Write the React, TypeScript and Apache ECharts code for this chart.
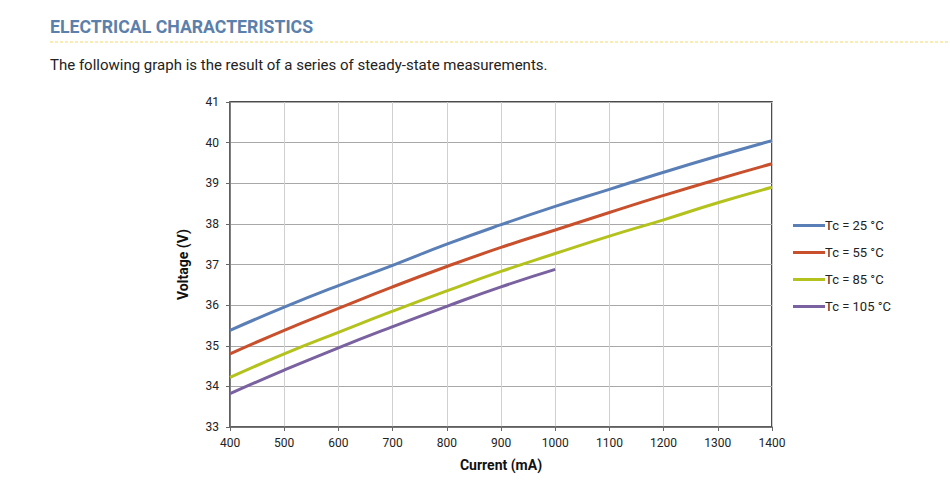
import React, { useEffect, useRef } from "react";
import * as echarts from "echarts";

const currents = [400, 500, 600, 700, 800, 900, 1000, 1100, 1200, 1300, 1400];
const tc25 = [35.38, 35.95, 36.48, 36.98, 37.5, 37.98, 38.43, 38.85, 39.27, 39.67, 40.05];
const tc55 = [34.8, 35.38, 35.92, 36.45, 36.95, 37.42, 37.85, 38.28, 38.7, 39.1, 39.48];
const tc85 = [34.22, 34.8, 35.33, 35.85, 36.35, 36.83, 37.27, 37.7, 38.1, 38.52, 38.9];
const tc105 = [33.82, 34.4, 34.95, 35.47, 35.97, 36.45, 36.88];

const seriesNames = ["Tc = 25 °C", "Tc = 55 °C", "Tc = 85 °C", "Tc = 105 °C"];
const seriesColors = ["#5a7fb6", "#c8502c", "#b4c21e", "#7a62a0"];
const seriesData = [tc25, tc55, tc85, tc105];

export default function App() {
  const ref = useRef<HTMLDivElement>(null);
  useEffect(() => {
    document.body.style.margin = "0";
    const chart = echarts.init(ref.current!, null, { renderer: "svg" });
    const font = "Roboto";
    chart.setOption({
      animation: false,
      backgroundColor: "#ffffff",
      textStyle: { fontFamily: font },
      graphic: [
        {
          type: "text",
          left: 50,
          top: 18,
          style: { text: "ELECTRICAL CHARACTERISTICS", fill: "#5b80ab", font: `bold 17.7px ${font}` },
        },
        {
          type: "line",
          shape: { x1: 50, y1: 42, x2: 948, y2: 42 },
          style: { stroke: "#f2d96a", lineWidth: 1, lineDash: [3, 2] },
        },
        {
          type: "text",
          left: 50,
          top: 57,
          style: { text: "The following graph is the result of a series of steady-state measurements.", fill: "#222", font: `15px ${font}` },
        },
      ],
      legend: {
        orient: "vertical",
        left: 788,
        top: 214,
        itemGap: 14,
        itemWidth: 32,
        itemHeight: 3,
        icon: "rect",
        textStyle: { fontFamily: font, fontSize: 13, color: "#222", padding: [0, 0, 0, -5] },
        data: seriesNames,
      },
      grid: {
        left: 230,
        top: 102,
        width: 542,
        height: 325,
        show: true,
        borderColor: "#111",
        borderWidth: 1.5,
      },
      xAxis: {
        type: "value",
        min: 400,
        max: 1400,
        interval: 100,
        name: "Current (mA)",
        nameLocation: "middle",
        nameGap: 31,
        nameTextStyle: { fontFamily: font, fontWeight: "bold", fontSize: 14, color: "#111" },
        axisLine: { show: true, lineStyle: { color: "#666", width: 1.5 } },
        axisTick: { show: true, length: 4, lineStyle: { color: "#666" } },
        axisLabel: { fontFamily: font, fontSize: 12, color: "#222", margin: 10, formatter: (v: number) => String(v) },
        splitLine: { show: true, lineStyle: { color: "#d0d0d0", width: 1 } },
      },
      yAxis: {
        type: "value",
        min: 33,
        max: 41,
        interval: 1,
        name: "Voltage (V)",
        nameLocation: "middle",
        nameGap: 40,
        nameRotate: 90,
        nameTextStyle: { fontFamily: font, fontWeight: "bold", fontSize: 14, color: "#111" },
        axisLine: { show: true, lineStyle: { color: "#666", width: 1.5 } },
        axisTick: { show: true, length: 4, lineStyle: { color: "#666" } },
        axisLabel: { fontFamily: font, fontSize: 12, color: "#222", margin: 11, formatter: (v: number) => String(v) },
        splitLine: { show: true, lineStyle: { color: "#a8a8a8", width: 1 } },
      },
      series: seriesNames.map((name, i) => ({
        name,
        type: "line",
        smooth: true,
        showSymbol: false,
        symbol: "none",
        color: seriesColors[i],
        lineStyle: { width: 3, color: seriesColors[i] },
        data: seriesData[i].map((v, j) => [currents[j], v]),
      })),
    });
    return () => chart.dispose();
  }, []);
  return <div ref={ref} style={{ position: "absolute", left: 0, top: 0, width: 950, height: 480 }} />;
}
